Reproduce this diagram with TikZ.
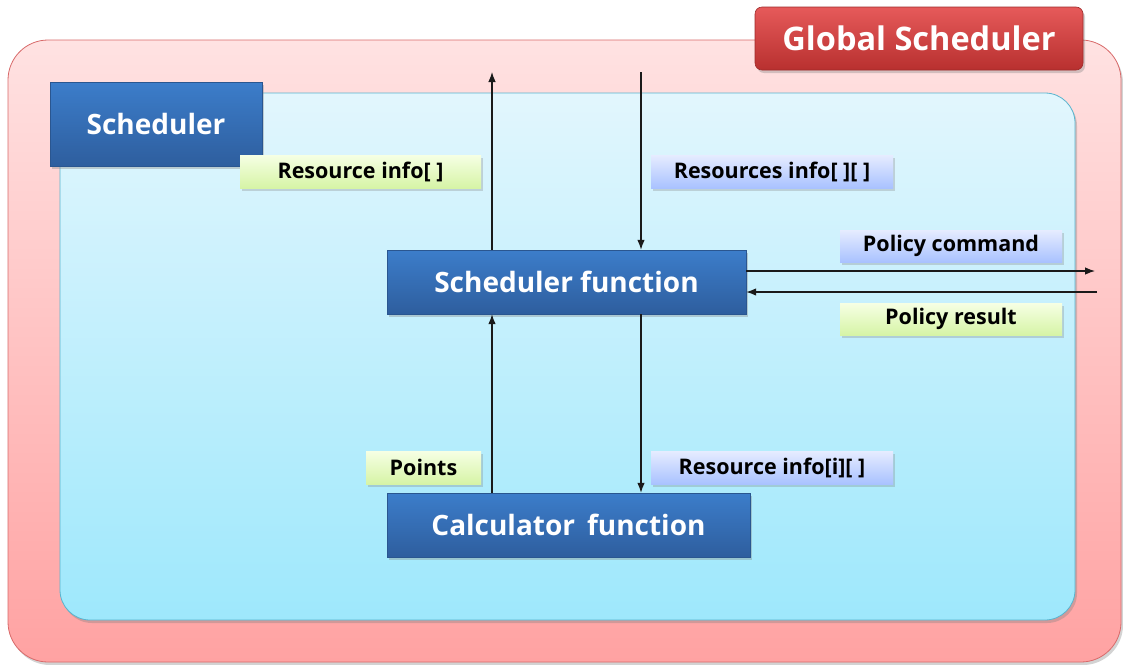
\documentclass[tikz,border=0pt]{standalone}
\usepackage{fontspec}
\setmainfont{Open Sans}
\usetikzlibrary{shadows,arrows.meta}

\definecolor{outerTop}{HTML}{FFE2E2}
\definecolor{outerBot}{HTML}{FFA2A2}
\definecolor{outerLine}{HTML}{D86A6A}
\definecolor{innerTop}{HTML}{E2F6FD}
\definecolor{innerBot}{HTML}{9EE8FC}
\definecolor{innerLine}{HTML}{58B4CE}
\definecolor{redTop}{HTML}{E65A5A}
\definecolor{redBot}{HTML}{B8302F}
\definecolor{redLine}{HTML}{9E2A2A}
\definecolor{fnTop}{HTML}{3C7DCA}
\definecolor{fnBot}{HTML}{2E5E9E}
\definecolor{fnLine}{HTML}{2A5690}
\definecolor{greenTop}{HTML}{F6FFE4}
\definecolor{greenBot}{HTML}{D6F4A6}
\definecolor{blueTop}{HTML}{E6ECFF}
\definecolor{blueBot}{HTML}{A9C2FF}
\definecolor{arrowInk}{HTML}{1A1A1A}

\tikzset{
  softshadow/.style={drop shadow={opacity=0.35,shadow xshift=2pt,shadow yshift=-3pt}},
  panelbox/.style={softshadow,line width=0.8pt},
  fnbox/.style={softshadow,draw=fnLine,line width=0.4pt,top color=fnTop,bottom color=fnBot,
    text=white,inner sep=0pt,font=\bfseries\fontsize{28}{33}\selectfont},
  titlebox/.style={softshadow,draw=redLine,line width=0.6pt,rounded corners=7pt,
    top color=redTop,bottom color=redBot,text=white,inner sep=0pt,
    font=\bfseries\fontsize{32.5}{38}\selectfont},
  tagbox/.style={drop shadow={opacity=0.3,shadow xshift=2pt,shadow yshift=-2.5pt},
    inner sep=0pt,text=black,font=\bfseries\fontsize{21.5}{25}\selectfont},
  taggreen/.style={tagbox,top color=greenTop,bottom color=greenBot},
  tagblue/.style={tagbox,top color=blueTop,bottom color=blueBot},
  flow/.style={draw=arrowInk,line width=1.1pt,-{Latex[length=10pt,width=7.5pt]}},
}

\begin{document}
\begin{tikzpicture}[x=1pt,y=-1pt]
\useasboundingbox (0,0) rectangle (1123,664);

% outer Global Scheduler panel
\path[panelbox,draw=outerLine,top color=outerTop,bottom color=outerBot,rounded corners=40pt]
  (8,40) rectangle (1121,662);
% inner Scheduler panel
\path[panelbox,draw=innerLine,top color=innerTop,bottom color=innerBot,rounded corners=30pt]
  (60,93) rectangle (1075,620);

% headers
\node[titlebox,minimum width=328pt,minimum height=63pt] (global) at (919,38.5) {Global Scheduler};
\node[fnbox,minimum width=212pt,minimum height=84pt] (sched) at (156,124) {Scheduler};

% function blocks
\node[fnbox,minimum width=359pt,minimum height=64pt] (fnS) at (566.5,282) {Scheduler function};
\node[fnbox,minimum width=363pt,minimum height=64pt] (fnC) at (568.5,525) {Calculator\, function};

% data labels
\node[taggreen,minimum width=241pt,minimum height=33pt] (tagRes) at (360.5,171.5) {Resource info[ ]};
\node[tagblue,minimum width=242pt,minimum height=33pt] (tagRess) at (772,171.5) {Resources info[ ][ ]};
\node[tagblue,minimum width=222pt,minimum height=32pt] (tagCmd) at (951,246) {Policy command};
\node[taggreen,minimum width=222pt,minimum height=32pt] (tagResult) at (951,319) {Policy result};
\node[taggreen,minimum width=115pt,minimum height=33pt] (tagPts) at (423.5,467.5) {Points};
\node[tagblue,minimum width=242pt,minimum height=33pt] (tagResI) at (772,467.5) {Resource info[i][ ]};

% free ends of the connectors
\coordinate (upEnd) at (492,72);
\coordinate (downStart) at (641,72);
\coordinate (cmdEnd) at (1095,271);
\coordinate (resStart) at (1097,292);

% connectors
\draw[flow] (fnS.north -| upEnd) -- (upEnd);
\draw[flow] (downStart) -- (fnS.north -| downStart);
\draw[flow] (fnC.north -| upEnd) -- (fnS.south -| upEnd);
\draw[flow] (fnS.south -| downStart) -- (fnC.north -| downStart);
\draw[flow] (fnS.east |- cmdEnd) -- (cmdEnd);
\draw[flow] (resStart) -- (fnS.east |- resStart);
\end{tikzpicture}
\end{document}
